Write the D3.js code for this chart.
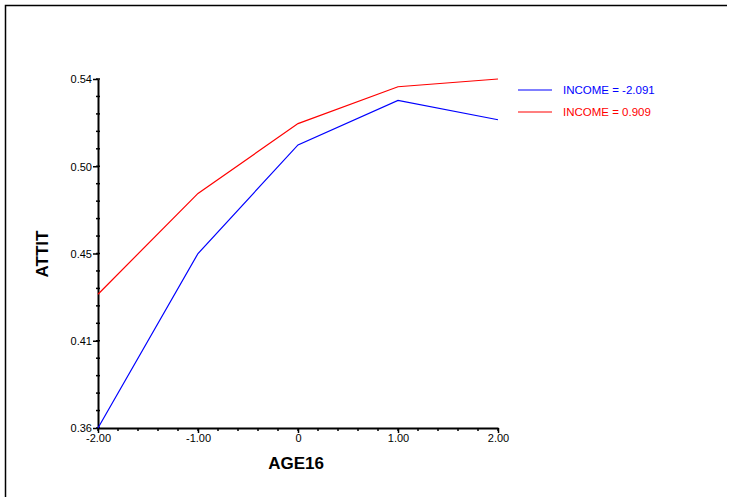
<!DOCTYPE html>
<html>
<head>
<meta charset="utf-8">
<script src="https://cdn.jsdelivr.net/npm/d3@7"></script>
<style>
  body { margin: 0; background: #fff; }
  text { font-family: "Liberation Sans", Arial, sans-serif; }
</style>
</head>
<body>
<div id="chart"></div>
<script>
// data
var ageValues = [-2, -1, 0, 1, 2];
var lowIncome = [0.360, 0.450, 0.506, 0.529, 0.519];
var highIncome = [0.429, 0.481, 0.517, 0.536, 0.540];
var seriesNames = ["INCOME = -2.091", "INCOME = 0.909"];
var seriesColors = ["#0000ff", "#ff0000"];
var xTickValues = [-2, -1, 0, 1, 2];
var xTickLabels = ["-2.00", "-1.00", "0", "1.00", "2.00"];
var yTickValues = [0.36, 0.405, 0.45, 0.495, 0.54];
var yTickLabels = ["0.36", "0.41", "0.45", "0.50", "0.54"];

var svgWidth = 731;
var svgHeight = 497;

var margin = { top: 79, left: 98 };
var width = 400;
var height = 349;

var svg = d3.select("#chart")
    .append("svg")
    .attr("width", svgWidth)
    .attr("height", svgHeight);

// outer frame (only top and left edges are visible)
svg.append("path")
    .attr("d", "M5.5,497 L5.5,5.5 L727,5.5")
    .attr("fill", "none")
    .attr("stroke", "#000")
    .attr("stroke-width", 1.5);

var chartGroup = svg.append("g")
    .attr("transform", `translate(${margin.left}, ${margin.top})`);

var xScale = d3.scaleLinear().domain([-2, 2]).range([0, width]);
var yScale = d3.scaleLinear().domain([0.36, 0.54]).range([height, 0]);

// minor ticks
var xMinor = d3.range(-2, 2.0001, 0.2);
var yMinor = d3.range(0.36, 0.5401, 0.009);

chartGroup.selectAll("line.xminor")
    .data(xMinor)
    .enter()
    .append("line")
    .attr("x1", d => xScale(d))
    .attr("x2", d => xScale(d))
    .attr("y1", height)
    .attr("y2", height + 3)
    .attr("stroke", "#000")
    .attr("stroke-width", 1.5);

chartGroup.selectAll("line.yminor")
    .data(yMinor)
    .enter()
    .append("line")
    .attr("x1", -2)
    .attr("x2", 2)
    .attr("y1", d => yScale(d))
    .attr("y2", d => yScale(d))
    .attr("stroke", "#000")
    .attr("stroke-width", 1.5);

var bottomAxis = d3.axisBottom(xScale)
    .tickValues(xTickValues)
    .tickFormat((d, i) => xTickLabels[i])
    .tickSize(5)
    .tickSizeOuter(0)
    .tickPadding(1);

var leftAxis = d3.axisLeft(yScale)
    .tickValues(yTickValues)
    .tickFormat((d, i) => yTickLabels[i])
    .tickSize(5)
    .tickSizeOuter(0)
    .tickPadding(1);

var xAxisG = chartGroup.append("g")
    .attr("transform", `translate(0, ${height})`)
    .call(bottomAxis);

var yAxisG = chartGroup.append("g")
    .call(leftAxis);

[xAxisG, yAxisG].forEach(function(g) {
  g.select(".domain").attr("stroke-width", 2);
  g.selectAll(".tick line").attr("stroke-width", 1.5);
  g.selectAll(".tick text")
    .attr("font-size", "11px")
    .attr("font-family", "Liberation Sans, Arial, sans-serif")
    .attr("fill", "#000");
});
yAxisG.selectAll(".tick text").attr("dy", "0.35em");

// lines
var lineGen = d3.line()
    .x((d, i) => xScale(ageValues[i]))
    .y(d => yScale(d));

[lowIncome, highIncome].forEach(function(series, k) {
  chartGroup.append("path")
      .datum(series)
      .attr("d", lineGen)
      .attr("fill", "none")
      .attr("stroke", seriesColors[k])
      .attr("stroke-width", 1.2);
});

// legend
var legend = svg.append("g").attr("transform", "translate(518, 90)");
seriesNames.forEach(function(name, k) {
  legend.append("line")
      .attr("x1", 0).attr("x2", 34)
      .attr("y1", k * 22).attr("y2", k * 22)
      .attr("stroke", seriesColors[k])
      .attr("stroke-width", 1.2);
  legend.append("text")
      .attr("x", 45)
      .attr("y", k * 22 + 4)
      .attr("font-size", "11.5px")
      .attr("fill", seriesColors[k])
      .text(name);
});

// axis titles
svg.append("text")
    .attr("transform", "translate(48, 254) rotate(-90)")
    .attr("text-anchor", "middle")
    .attr("font-size", "17px")
    .attr("font-weight", "bold")
    .text("ATTIT");

svg.append("text")
    .attr("x", 296)
    .attr("y", 469)
    .attr("text-anchor", "middle")
    .attr("font-size", "17px")
    .attr("font-weight", "bold")
    .text("AGE16");
</script>
</body>
</html>
